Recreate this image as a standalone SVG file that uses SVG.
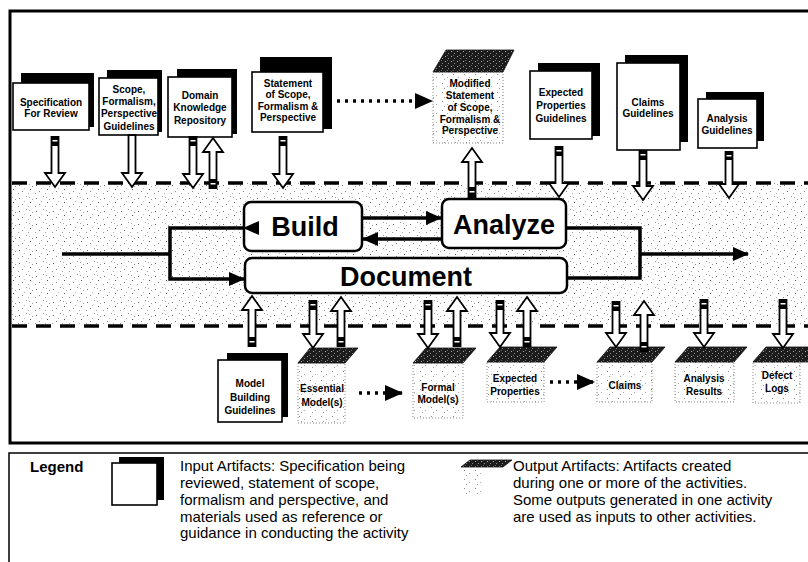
<svg xmlns="http://www.w3.org/2000/svg" width="808" height="562" viewBox="0 0 808 562">
<style>
.frame{fill:none;stroke:#000;stroke-width:3}
.legbox{fill:none;stroke:#000;stroke-width:1.5}
.dash{fill:none;stroke:#000;stroke-width:3.5;stroke-dasharray:15 9}
.shadow{fill:#000}
.page{fill:#fff;stroke:#000;stroke-width:1.6}
.lid{fill:url(#lidpat);stroke:#111;stroke-width:0.8}
.body{fill:url(#sparse);stroke:#888;stroke-width:1;stroke-dasharray:1 2}
.dl{font-family:"Liberation Sans",Arial,sans-serif;font-weight:bold;font-size:10px;text-anchor:middle;fill:#000}
.act{fill:#fff;stroke:#000;stroke-width:2.5}
.big{font-family:"Liberation Sans",Arial,sans-serif;font-weight:bold;font-size:27px;text-anchor:middle;fill:#000}
.flow{fill:none;stroke:#000;stroke-width:3.5}
.dot{fill:none;stroke:#000;stroke-width:3.5;stroke-dasharray:3 5}
.blk{fill:#fff;stroke:#000;stroke-width:1.8;stroke-linejoin:miter}
.tab{fill:#000}
.tabl{fill:#fff}
.lt{font-family:"Liberation Sans",Arial,sans-serif;font-size:15px;fill:#000}
.lh{font-family:"Liberation Sans",Arial,sans-serif;font-size:15px;font-weight:bold;fill:#000}
</style>
<defs>
<pattern id="stip" width="17" height="13" patternUnits="userSpaceOnUse">
<rect width="17" height="13" fill="#fff"/>
<rect x="2" y="3" width="1" height="1" fill="#666"/>
<rect x="9" y="1" width="1" height="1" fill="#999"/>
<rect x="13" y="7" width="1" height="1" fill="#555"/>
<rect x="5" y="9" width="1" height="1" fill="#888"/>
<rect x="11" y="11" width="1" height="1" fill="#aaa"/>
<rect x="15" y="4" width="1" height="1" fill="#999"/>
<rect x="7" y="6" width="1" height="1" fill="#bbb"/>
<rect x="1" y="11" width="1" height="1" fill="#999"/>
<rect x="12" y="2" width="1" height="1" fill="#aaa"/>
</pattern>
<pattern id="sparse" width="11" height="9" patternUnits="userSpaceOnUse">
<rect width="11" height="9" fill="#fff"/>
<rect x="2" y="2" width="1" height="1" fill="#888"/>
<rect x="7" y="5" width="1" height="1" fill="#aaa"/>
<rect x="4" y="7" width="1" height="1" fill="#999"/>
</pattern>
<pattern id="lidpat" width="6" height="5" patternUnits="userSpaceOnUse">
<rect width="6" height="5" fill="#1c1c1c"/>
<rect x="1" y="1" width="1" height="1" fill="#aaa"/>
<rect x="4" y="3" width="1" height="1" fill="#888"/>
<rect x="3" y="0" width="1" height="1" fill="#666"/>
</pattern>
<marker id="ah" viewBox="0 0 16 14" refX="15" refY="7" markerWidth="16" markerHeight="14" markerUnits="userSpaceOnUse" orient="auto">
<path d="M0,0 L16,7 L0,14 Z" fill="#000"/>
</marker>
<marker id="dh" viewBox="0 0 18 16" refX="17" refY="8" markerWidth="18" markerHeight="16" markerUnits="userSpaceOnUse" orient="auto">
<path d="M0,0 L18,8 L0,16 Z" fill="#000"/>
</marker>
</defs>

<rect width="808" height="562" fill="#fff"/>

<g id="frame">
<rect x="11" y="183" width="800" height="143" fill="url(#stip)"/>
<rect class="frame" x="10" y="11" width="812" height="432"/>
<line class="dash" x1="12" y1="183" x2="808" y2="183"/>
<line class="dash" x1="12" y1="326" x2="808" y2="326"/>
</g>

<!-- input artifacts -->
<g id="spec-for-review">
<rect class="shadow" x="21" y="73" width="73" height="54"/>
<rect class="page" x="13" y="83" width="76" height="47"/>
<text class="dl" x="51" y="106">Specification</text>
<text class="dl" x="51" y="117">For Review</text>
</g>
<g id="scope-guidelines">
<rect class="shadow" x="107" y="70" width="55" height="62"/>
<rect class="page" x="99" y="78" width="59" height="57"/>
<text class="dl" x="129" y="93">Scope,</text>
<text class="dl" x="129" y="105">Formalism,</text>
<text class="dl" x="129" y="117">Perspective</text>
<text class="dl" x="129" y="130">Guidelines</text>
</g>
<g id="domain-knowledge">
<rect class="shadow" x="177" y="69" width="60" height="65"/>
<rect class="page" x="168" y="77" width="64" height="60"/>
<text class="dl" x="200" y="99">Domain</text>
<text class="dl" x="200" y="111">Knowledge</text>
<text class="dl" x="200" y="124">Repository</text>
</g>
<g id="statement-scope">
<rect class="shadow" x="260" y="57" width="72" height="72"/>
<rect class="page" x="252" y="72" width="71" height="60"/>
<text class="dl" x="288" y="87">Statement</text>
<text class="dl" x="288" y="98">of Scope,</text>
<text class="dl" x="288" y="110">Formalism &amp;</text>
<text class="dl" x="288" y="121">Perspective</text>
</g>
<g id="expected-properties-guidelines">
<rect class="shadow" x="538" y="63" width="62" height="73"/>
<rect class="page" x="530" y="71" width="62" height="68"/>
<text class="dl" x="561" y="96">Expected</text>
<text class="dl" x="561" y="109">Properties</text>
<text class="dl" x="561" y="122">Guidelines</text>
</g>
<g id="claims-guidelines">
<rect class="shadow" x="625" y="55" width="63" height="87"/>
<rect class="page" x="617" y="63" width="63" height="87"/>
<text class="dl" x="648" y="106">Claims</text>
<text class="dl" x="648" y="117">Guidelines</text>
</g>
<g id="analysis-guidelines">
<rect class="shadow" x="706" y="92" width="58" height="49"/>
<rect class="page" x="698" y="99" width="59" height="49"/>
<text class="dl" x="727" y="122">Analysis</text>
<text class="dl" x="727" y="134">Guidelines</text>
</g>
<g id="model-building-guidelines">
<rect class="shadow" x="227" y="353" width="61" height="64"/>
<rect class="page" x="218" y="360" width="64" height="62"/>
<text class="dl" x="250" y="387">Model</text>
<text class="dl" x="250" y="401">Building</text>
<text class="dl" x="250" y="414">Guidelines</text>
</g>

<!-- output artifacts -->
<g id="modified-statement">
<rect class="body" x="433" y="72" width="70" height="71"/>
<polygon class="lid" points="446,50 514,50 503,72 433,72"/>
<text class="dl" x="470" y="87">Modified</text>
<text class="dl" x="470" y="99">Statement</text>
<text class="dl" x="470" y="111">of Scope,</text>
<text class="dl" x="470" y="123">Formalism &amp;</text>
<text class="dl" x="470" y="134">Perspective</text>
</g>
<g id="essential-models">
<rect class="body" x="298" y="363" width="47" height="60"/>
<polygon class="lid" points="310,348 358,348 345,363 298,363"/>
<text class="dl" x="322" y="392">Essential</text>
<text class="dl" x="322" y="406">Model(s)</text>
</g>
<g id="formal-models">
<rect class="body" x="413" y="363" width="50" height="55"/>
<polygon class="lid" points="426,348 476,348 463,363 413,363"/>
<text class="dl" x="438" y="391">Formal</text>
<text class="dl" x="438" y="403">Model(s)</text>
</g>
<g id="expected-properties">
<rect class="body" x="487" y="362" width="57" height="40"/>
<polygon class="lid" points="500,347 557,347 544,362 487,362"/>
<text class="dl" x="515" y="382">Expected</text>
<text class="dl" x="515" y="395">Properties</text>
</g>
<g id="claims">
<rect class="body" x="597" y="362" width="55" height="40"/>
<polygon class="lid" points="610,347 665,347 652,362 597,362"/>
<text class="dl" x="625" y="389">Claims</text>
</g>
<g id="analysis-results">
<rect class="body" x="675" y="362" width="59" height="40"/>
<polygon class="lid" points="688,347 747,347 734,362 675,362"/>
<text class="dl" x="704" y="382">Analysis</text>
<text class="dl" x="704" y="395">Results</text>
</g>
<g id="defect-logs">
<rect class="body" x="753" y="362" width="47" height="41"/>
<polygon class="lid" points="766,347 822,347 809,362 753,362"/>
<text class="dl" x="777" y="379">Defect</text>
<text class="dl" x="777" y="392">Logs</text>
</g>

<!-- activities -->
<g id="build">
<rect class="act" x="244" y="202" width="118" height="49" rx="7"/>
<text class="big" x="305" y="236">Build</text>
</g>
<g id="analyze">
<rect class="act" x="442" y="199" width="124" height="49" rx="7"/>
<text class="big" x="504" y="234">Analyze</text>
</g>
<g id="document">
<rect class="act" x="245" y="258" width="322" height="35" rx="7"/>
<text class="big" x="406" y="286">Document</text>
</g>

<g id="connectors">
<!-- main flow -->
<path class="flow" d="M62,254 H170"/>
<path class="flow" d="M244,228 H170 V279 H244" marker-start="url(#ah)" marker-end="url(#ah)"/>
<path class="flow" d="M362,218 H441" marker-end="url(#ah)"/>
<path class="flow" d="M442,239 H363" marker-end="url(#ah)"/>
<path class="flow" d="M566,228 H640 V278 H567"/>
<path class="flow" d="M640,254 H748" marker-end="url(#ah)"/>
<!-- dotted derivations -->
<path class="dot" d="M337,101 H432" marker-end="url(#dh)"/>
<path class="dot" d="M359,393 H402" marker-end="url(#dh)"/>
<path class="dot" d="M550,382 H594" marker-end="url(#dh)"/>
<!-- block arrows: top -->
<path class="blk" d="M51.5,137 V173 H45 L55,187 L65,173 H58.5 V137 Z"/>
<rect class="tab" x="51.5" y="137" width="7" height="9"/><rect class="tabl" x="52.5" y="140" width="5" height="1.5"/>
<path class="blk" d="M128.5,135 V173 H122 L132,187 L142,173 H135.5 V135 Z"/>
<path class="blk" d="M189.5,137 V174 H183 L193,188 L203,174 H196.5 V137 Z"/>
<rect class="tab" x="189.5" y="137" width="7" height="9"/><rect class="tabl" x="190.5" y="140" width="5" height="1.5"/>
<path class="blk" d="M209.5,188 V152 H203 L213,138 L223,152 H216.5 V188 Z"/>
<rect class="tab" x="209.5" y="179" width="7" height="9"/><rect class="tabl" x="210.5" y="183" width="5" height="1.5"/>
<path class="blk" d="M279.5,137 V174 H273 L283,188 L293,174 H286.5 V137 Z"/>
<rect class="tab" x="279.5" y="137" width="7" height="9"/><rect class="tabl" x="280.5" y="140" width="5" height="1.5"/>
<path class="blk" d="M468.5,198 V162 H462 L472,148 L482,162 H475.5 V198 Z"/>
<rect class="tab" x="468.5" y="187" width="7" height="10"/><rect class="tabl" x="469.5" y="191" width="5" height="1.5"/>
<path class="blk" d="M555.5,147 V183 H549 L559,197 L569,183 H562.5 V147 Z"/>
<rect class="tab" x="555.5" y="147" width="7" height="9"/><rect class="tabl" x="556.5" y="150" width="5" height="1.5"/>
<path class="blk" d="M639.5,151 V186 H633 L643,200 L653,186 H646.5 V151 Z"/>
<rect class="tab" x="639.5" y="151" width="7" height="9"/><rect class="tabl" x="640.5" y="154" width="5" height="1.5"/>
<path class="blk" d="M725.5,152 V184 H719 L729,198 L739,184 H732.5 V152 Z"/>
<rect class="tab" x="725.5" y="152" width="7" height="8"/><rect class="tabl" x="726.5" y="155" width="5" height="1.5"/>
<!-- block arrows: bottom -->
<path class="blk" d="M248.5,346 V310 H242 L252,296 L262,310 H255.5 V346 Z"/>
<rect class="tab" x="248.5" y="337" width="7" height="9"/><rect class="tabl" x="249.5" y="341" width="5" height="1.5"/>
<path class="blk" d="M309.5,301 V334 H303 L313,348 L323,334 H316.5 V301 Z"/>
<rect class="tab" x="309.5" y="301" width="7" height="9"/><rect class="tabl" x="310.5" y="304" width="5" height="1.5"/>
<path class="blk" d="M337.5,346 V311 H331 L341,297 L351,311 H344.5 V346 Z"/>
<rect class="tab" x="337.5" y="337" width="7" height="9"/><rect class="tabl" x="338.5" y="341" width="5" height="1.5"/>
<path class="blk" d="M424.5,301 V334 H418 L428,348 L438,334 H431.5 V301 Z"/>
<rect class="tab" x="424.5" y="301" width="7" height="9"/><rect class="tabl" x="425.5" y="304" width="5" height="1.5"/>
<path class="blk" d="M453.5,346 V311 H447 L457,297 L467,311 H460.5 V346 Z"/>
<rect class="tab" x="453.5" y="337" width="7" height="9"/><rect class="tabl" x="454.5" y="341" width="5" height="1.5"/>
<path class="blk" d="M496.5,301 V333 H490 L500,347 L510,333 H503.5 V301 Z"/>
<rect class="tab" x="496.5" y="301" width="7" height="9"/><rect class="tabl" x="497.5" y="304" width="5" height="1.5"/>
<path class="blk" d="M523.5,346 V311 H517 L527,297 L537,311 H530.5 V346 Z"/>
<rect class="tab" x="523.5" y="337" width="7" height="9"/><rect class="tabl" x="524.5" y="341" width="5" height="1.5"/>
<path class="blk" d="M612.5,302 V333 H606 L616,347 L626,333 H619.5 V302 Z"/>
<rect class="tab" x="612.5" y="302" width="7" height="9"/><rect class="tabl" x="613.5" y="305" width="5" height="1.5"/>
<path class="blk" d="M640.5,351 V315 H634 L644,301 L654,315 H647.5 V351 Z"/>
<rect class="tab" x="640.5" y="342" width="7" height="9"/><rect class="tabl" x="641.5" y="346" width="5" height="1.5"/>
<path class="blk" d="M700.5,300 V333 H694 L704,347 L714,333 H707.5 V300 Z"/>
<rect class="tab" x="700.5" y="300" width="7" height="9"/><rect class="tabl" x="701.5" y="303" width="5" height="1.5"/>
<path class="blk" d="M779.5,300 V334 H773 L783,348 L793,334 H786.5 V300 Z"/>
<rect class="tab" x="779.5" y="300" width="7" height="9"/><rect class="tabl" x="780.5" y="303" width="5" height="1.5"/>
</g>

<g id="legend">
<rect class="legbox" x="9" y="453" width="812" height="120"/>
<text class="lh" x="30" y="472">Legend</text>
<g id="legend-input">
<rect class="shadow" x="119" y="457" width="45" height="43"/>
<rect class="page" x="112" y="463" width="45" height="42"/>
</g>
<text class="lt" x="180" y="471">Input Artifacts: Specification being</text>
<text class="lt" x="180" y="488">reviewed, statement of scope,</text>
<text class="lt" x="180" y="505">formalism and perspective, and</text>
<text class="lt" x="180" y="522">materials used as reference or</text>
<text class="lt" x="180" y="538">guidance in conducting the activity</text>
<g id="legend-output">
<rect x="461" y="467" width="22" height="28" fill="url(#sparse)"/>
<polygon class="lid" points="470,460 512,460 503,467 461,467"/>
</g>
<text class="lt" x="513" y="471">Output Artifacts: Artifacts created</text>
<text class="lt" x="513" y="488">during one or more of the activities.</text>
<text class="lt" x="513" y="505">Some outputs generated in one activity</text>
<text class="lt" x="513" y="522">are used as inputs to other activities.</text>
</g>
</svg>
